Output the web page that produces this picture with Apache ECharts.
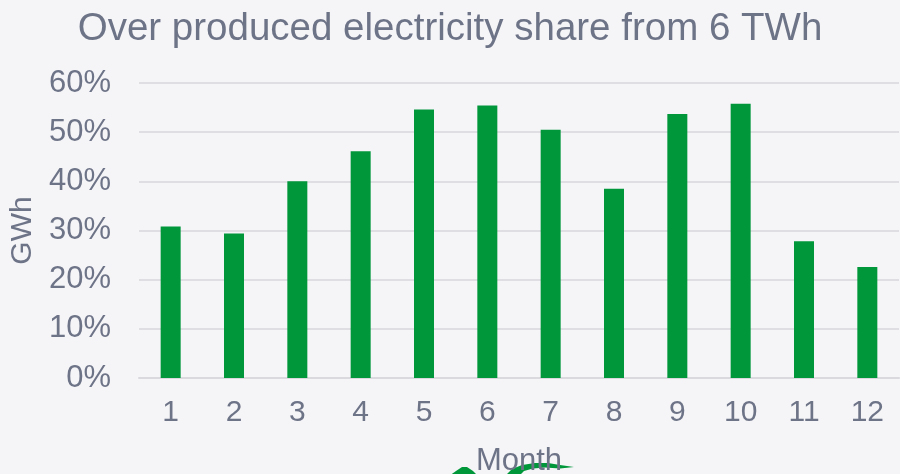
<!DOCTYPE html>
<html>
<head>
<meta charset="utf-8">
<script src="https://cdn.jsdelivr.net/npm/echarts@6/dist/echarts.min.js"></script>
<style>
html,body{margin:0;padding:0;background:#f5f5f8;}
#chart{width:900px;height:474px;}
</style>
</head>
<body>
<div id="chart"></div>
<script>
const months = ['1','2','3','4','5','6','7','8','9','10','11','12'];
const shareValues = [30.8, 29.4, 40.0, 46.1, 54.6, 55.4, 50.5, 38.5, 53.7, 55.8, 27.8, 22.6];
const yTicks = [0, 10, 20, 30, 40, 50, 60];

const textColor = '#6e7487';
const font = 'Liberation Sans, Arial, sans-serif';

const chart = echarts.init(document.getElementById('chart'));
chart.setOption({
  backgroundColor: '#f5f5f8',
  animation: false,
  title: {
    text: 'Over produced electricity share from 6 TWh',
    left: 'center',
    top: 5,
    textStyle: { color: textColor, fontSize: 38.5, fontWeight: 'normal', fontFamily: font }
  },
  grid: { left: 139, right: 1, top: 83, bottom: 96, outerBoundsMode: 'none', containLabel: false },
  xAxis: {
    type: 'category',
    data: months,
    name: 'Month',
    nameLocation: 'middle',
    nameGap: 68,
    nameTextStyle: { color: textColor, fontSize: 31, fontFamily: font },
    axisLine: { lineStyle: { color: '#d9d9de', width: 2 } },
    axisTick: { show: false },
    axisLabel: { color: textColor, fontSize: 30, fontFamily: font, margin: 20 }
  },
  yAxis: {
    type: 'value',
    min: yTicks[0],
    max: yTicks[yTicks.length - 1],
    interval: 10,
    name: 'GWh',
    nameLocation: 'middle',
    nameGap: 100,
    nameTextStyle: { color: textColor, fontSize: 30, fontFamily: font },
    axisLine: { show: false },
    axisTick: { show: false },
    axisLabel: { color: textColor, fontSize: 31, fontFamily: font, margin: 28, formatter: '{value}%' },
    splitLine: { lineStyle: { color: '#dedee3', width: 2 } }
  },
  series: [{
    type: 'bar',
    data: shareValues,
    barWidth: 20,
    itemStyle: { color: '#00963a' }
  }],
  graphic: [
    {
      type: 'polygon',
      shape: { points: [[449,476],[456,471],[462,467],[467,467],[473,471],[478,476]] },
      style: { fill: '#00963a' },
      z: 0
    },
    {
      type: 'polygon',
      shape: { points: [[505,476],[512,469],[522,465],[535,463],[548,463],[560,465],[574,467],[560,468.5],[545,467.5],[533,468.5],[524,471],[519,476]] },
      style: { fill: '#00963a' },
      z: 0
    }
  ]
});
</script>
</body>
</html>
